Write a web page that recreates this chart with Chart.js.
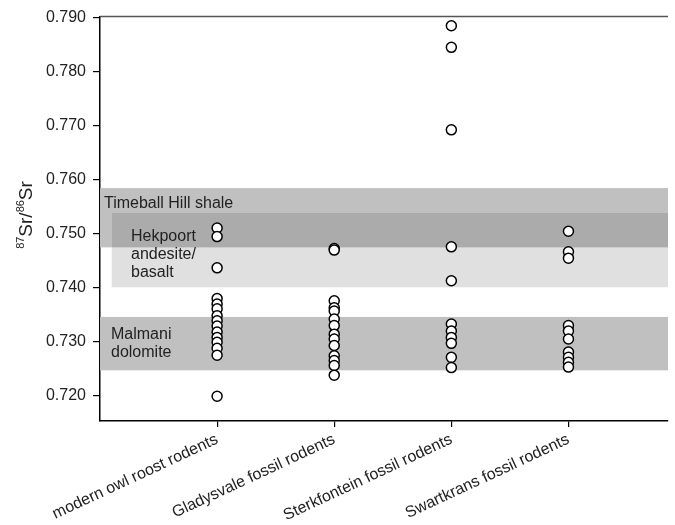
<!DOCTYPE html>
<html>
<head>
<meta charset="utf-8">
<script src="https://cdn.jsdelivr.net/npm/chart.js@4/dist/chart.umd.min.js"></script>
<style>
  html, body { margin: 0; padding: 0; background: #fff; }
  #wrap { width: 675px; height: 525px; }
</style>
</head>
<body>
<div id="wrap"><canvas id="c" width="675" height="525"></canvas></div>
<script>
// ---- data ----
const categories = ['modern owl roost rodents', 'Gladysvale fossil rodents', 'Sterkfontein fossil rodents', 'Swartkrans fossil rodents'];
const owlValues = [0.7510, 0.7494, 0.7436, 0.7379, 0.7369, 0.7360, 0.7347, 0.7338, 0.7328, 0.7317, 0.7307, 0.7298, 0.7287, 0.7274, 0.7198];
const gladysvaleValues = [0.7472, 0.7469, 0.7375, 0.7362, 0.7356, 0.7341, 0.7329, 0.7313, 0.7304, 0.7292, 0.7273, 0.7264, 0.7255, 0.7237];
const sterkfonteinValues = [0.7885, 0.7845, 0.7692, 0.7475, 0.7412, 0.7332, 0.7319, 0.7307, 0.7296, 0.7270, 0.7251];
const swartkransValues = [0.7504, 0.7466, 0.7454, 0.7329, 0.7319, 0.7304, 0.7280, 0.7270, 0.7261, 0.7252];
const yTicks = [0.72, 0.73, 0.74, 0.75, 0.76, 0.77, 0.78, 0.79];

// geological bands (ratio ranges)
const bandNames = ['Timeball Hill shale', 'Hekpoort andesite/basalt', 'Malmani dolomite'];
const bandLow = [0.7474, 0.7400, 0.7246];
const bandHigh = [0.7584, 0.7538, 0.7345];
const bandStart = [0, 0.1, 0];   // x start in category units
const bandLabelLines = [['Timeball Hill shale'], ['Hekpoort', 'andesite/', 'basalt'], ['Malmani', 'dolomite']];

const seriesValues = [owlValues, gladysvaleValues, sterkfonteinValues, swartkransValues];

const FONT = '"Liberation Sans", Arial, Helvetica, sans-serif';
const TXT = '#222222';

const bandsPlugin = {
  id: 'bands',
  beforeDatasetsDraw(chart) {
    const { ctx, chartArea, scales } = chart;
    const xs = scales.x, ys = scales.y;
    const rect = (x0, x1, lo, hi, col) => {
      const px0 = xs.getPixelForValue(x0);
      const px1 = x1 === null ? chartArea.right : xs.getPixelForValue(x1);
      const py0 = ys.getPixelForValue(hi), py1 = ys.getPixelForValue(lo);
      ctx.fillStyle = col;
      ctx.fillRect(px0, py0, px1 - px0, py1 - py0);
    };
    ctx.save();
    rect(bandStart[0], null, bandLow[0], bandHigh[0], '#c0c0c0');
    rect(bandStart[1], null, bandLow[1], bandHigh[1], '#e0e0e0');
    // overlap of Timeball and Hekpoort
    rect(Math.max(bandStart[0], bandStart[1]), null, Math.max(bandLow[0], bandLow[1]), Math.min(bandHigh[0], bandHigh[1]), '#ababab');
    rect(bandStart[2], null, bandLow[2], bandHigh[2], '#c0c0c0');

    // labels
    ctx.fillStyle = TXT;
    ctx.font = '16px ' + FONT;
    ctx.textBaseline = 'middle';
    ctx.textAlign = 'left';
    const left = chartArea.left;
    let yT = ys.getPixelForValue(bandHigh[0]);
    ctx.fillText(bandLabelLines[0][0], left + 4, yT + 16);
    let yH = ys.getPixelForValue(bandHigh[1]);
    bandLabelLines[1].forEach((t, i) => ctx.fillText(t, left + 31, yH + 24 + i * 18));
    let yM = ys.getPixelForValue(bandHigh[2]);
    bandLabelLines[2].forEach((t, i) => ctx.fillText(t, left + 11, yM + 18 + i * 18));
    ctx.restore();
  },
  afterDraw(chart) {
    const { ctx, chartArea } = chart;
    ctx.save();
    ctx.strokeStyle = '#555';
    ctx.lineWidth = 1.5;
    ctx.beginPath();
    ctx.moveTo(chartArea.left, chartArea.top);
    ctx.lineTo(chartArea.right, chartArea.top);
    ctx.stroke();
    // y axis title 87Sr/86Sr
    ctx.translate(32, 215);
    ctx.rotate(-Math.PI / 2);
    ctx.fillStyle = TXT;
    ctx.textBaseline = 'alphabetic';
    ctx.textAlign = 'left';
    const big = '19px ' + FONT, small = '11px ' + FONT;
    const parts = [['87', small, -8], ['Sr/', big, 0], ['86', small, -8], ['Sr', big, 0]];
    let total = 0;
    parts.forEach(p => { ctx.font = p[1]; total += ctx.measureText(p[0]).width; });
    let x = -total / 2;
    parts.forEach(p => { ctx.font = p[1]; ctx.fillText(p[0], x, p[2]); x += ctx.measureText(p[0]).width; });
    ctx.restore();
  }
};

const datasets = seriesValues.map((vals, i) => ({
  label: categories[i],
  data: vals.map(v => ({ x: i + 1, y: v })),
  pointRadius: 5,
  pointBackgroundColor: '#ffffff',
  pointBorderColor: '#000000',
  pointBorderWidth: 1.5,
  showLine: false
}));

new Chart(document.getElementById('c'), {
  type: 'scatter',
  data: { datasets },
  options: {
    responsive: false,
    animation: false,
    layout: { padding: { top: 13, right: 7, left: 0, bottom: 0 } },
    plugins: { legend: { display: false }, tooltip: { enabled: false } },
    scales: {
      x: {
        type: 'linear',
        min: 0,
        max: 4.85,
        afterBuildTicks: s => { s.ticks = [1, 2, 3, 4].map(v => ({ value: v })); },
        afterFit: s => { s.height = 104; },
        ticks: {
          autoSkip: false,
          minRotation: 25,
          maxRotation: 25,
          padding: 3,
          color: TXT,
          font: { family: FONT, size: 16 },
          callback: v => categories[v - 1]
        },
        grid: { drawOnChartArea: false, drawTicks: true, tickLength: 6, color: '#000', lineWidth: 1.2 },
        border: { display: true, color: '#000', width: 1.5 }
      },
      y: {
        min: 0.7152,
        max: 0.7902,
        afterBuildTicks: s => { s.ticks = yTicks.map(v => ({ value: v })); },
        afterFit: s => { s.width = 100; },
        ticks: {
          padding: 7,
          color: TXT,
          font: { family: FONT, size: 16 },
          callback: v => Number(v).toFixed(3)
        },
        grid: { drawOnChartArea: false, drawTicks: true, tickLength: 7, color: '#000', lineWidth: 1.2 },
        border: { display: true, color: '#000', width: 1.5 }
      }
    }
  },
  plugins: [bandsPlugin]
});
</script>
</body>
</html>
